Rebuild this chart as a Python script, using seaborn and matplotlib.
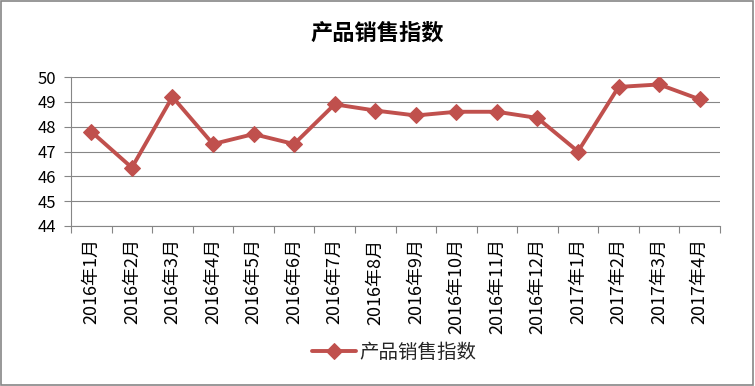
import matplotlib
matplotlib.use("Agg")
import matplotlib.pyplot as plt
import seaborn as sns
import pandas as pd
from matplotlib.patches import Rectangle
from matplotlib.ticker import FixedLocator

months = ["2016年1月", "2016年2月", "2016年3月", "2016年4月", "2016年5月", "2016年6月",
          "2016年7月", "2016年8月", "2016年9月", "2016年10月", "2016年11月", "2016年12月",
          "2017年1月", "2017年2月", "2017年3月", "2017年4月"]
values = [47.8, 46.35, 49.2, 47.3, 47.7, 47.3, 48.9, 48.65, 48.45, 48.6, 48.6, 48.35,
          47.0, 49.6, 49.7, 49.1]
series_name = "产品销售指数"
title = "产品销售指数"
yticks = [44, 45, 46, 47, 48, 49, 50]

sns.set_theme(style="white")
plt.rcParams['font.family'] = ['Noto Sans CJK SC', 'DejaVu Sans']

df = pd.DataFrame({"x": range(len(months)), "v": values})

fig = plt.figure(figsize=(7.55, 3.86), dpi=100)
ax = fig.add_axes([71/755, 1-226/386, (720-71)/755, (226-77)/386])

color = "#C0504D"
sns.lineplot(data=df, x="x", y="v", ax=ax, color=color, linewidth=2.8,
             marker="D", markersize=8, markeredgecolor=color, label=series_name,
             legend=False)

ax.set_xlim(-0.5, len(months) - 0.5)
ax.set_ylim(yticks[0], yticks[-1])
ax.set_yticks(yticks)
ax.set_yticklabels([str(t) for t in yticks], fontsize=12, color="#000000")
ax.set_xticks(range(len(months)))
ax.set_xticklabels(months, rotation=90, fontsize=13, color="#000000")
ax.xaxis.set_minor_locator(FixedLocator([i - 0.5 for i in range(len(months) + 1)]))
ax.tick_params(axis="x", which="major", length=0, pad=9)
ax.tick_params(axis="x", which="minor", length=5, width=0.8, color="#868686", bottom=True)
ax.tick_params(axis="y", length=5, width=0.8, color="#868686", left=True, pad=6)
ax.set_xlabel("")
ax.set_ylabel("")
ax.grid(axis="y", color="#868686", linewidth=0.8)
ax.grid(axis="x", visible=False)
for s in ["top", "right"]:
    ax.spines[s].set_visible(False)
for s in ["left", "bottom"]:
    ax.spines[s].set_color("#868686")
    ax.spines[s].set_linewidth(0.8)

fig.text(0.5, 1 - 33/386, title, ha="center", va="center", fontsize=16,
         fontweight="bold", color="#000000")

handles, labels = ax.get_legend_handles_labels()
fig.legend(handles, labels, loc="center", bbox_to_anchor=(394/755, 1 - 352/386),
           frameon=False, fontsize=14, handlelength=2.3, handletextpad=0.15)

fig.patches.append(Rectangle((0.001, 0.002), 0.997, 0.995, transform=fig.transFigure,
                             fill=False, edgecolor="#868686", linewidth=1.2))

fig.savefig("out.png", dpi=100)
